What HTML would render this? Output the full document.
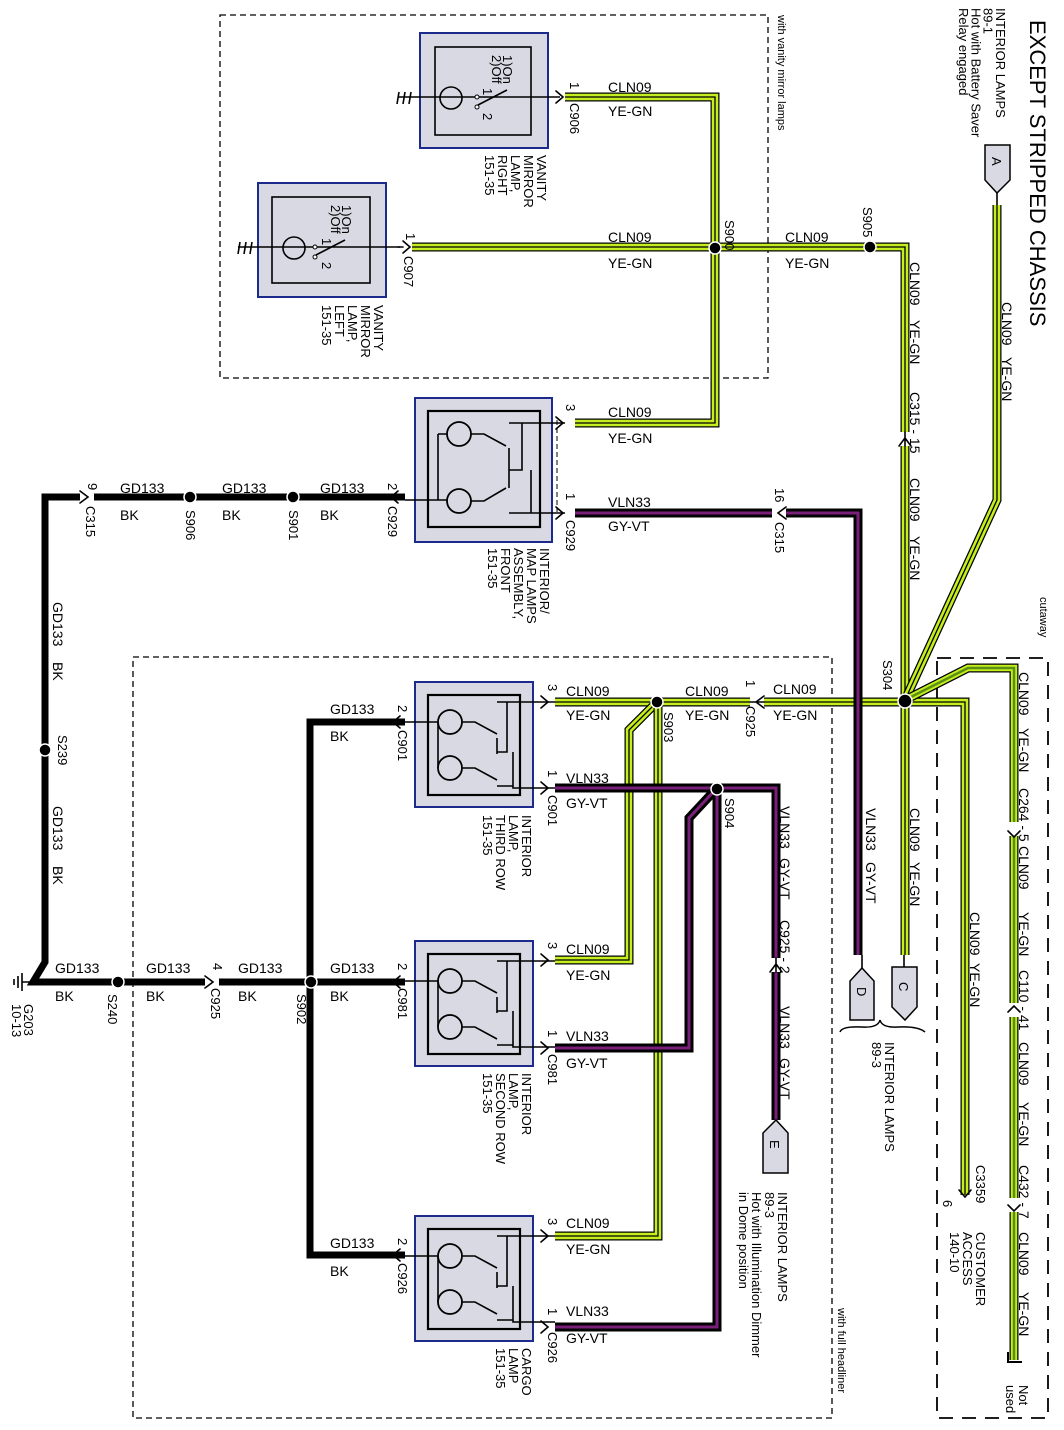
<!DOCTYPE html>
<html><head><meta charset="utf-8"><style>
html,body{margin:0;padding:0;background:#fff;}
svg{display:block;}
text{font-family:"Liberation Sans",Arial,sans-serif;fill:#000;}
.gk{fill:none;stroke:#000;stroke-width:9;}
.gy{fill:none;stroke:#c4ee1e;stroke-width:6.5;}
.gc{fill:none;stroke:#000;stroke-width:1.3;}
.dg{fill:none;stroke:#5b8f12;stroke-width:6.5;}
.pk{fill:none;stroke:#000;stroke-width:9;}
.pp{fill:none;stroke:#7a207a;stroke-width:3;}
.bk{fill:none;stroke:#000;stroke-width:7;}
.th{fill:none;stroke:#000;stroke-width:1.6;}
.box{fill:#d9d9e3;stroke:#1c2a8c;stroke-width:2;}
.inr{fill:none;stroke:#000;stroke-width:2.2;}
.dash{fill:none;stroke:#000;stroke-width:1.3;stroke-dasharray:6 4;}
.w{font-size:14px;}
.r{font-size:13px;}
</style></head><body>
<svg width="1064" height="1430" viewBox="0 0 1064 1430" xmlns="http://www.w3.org/2000/svg">
<defs>
<path id="g1" d="M565,97 H715 V423 H575"/>
<path id="g2" d="M412,247 H905 V955"/>
<path id="g3" d="M997,205 V500 L905,700"/>
<path id="g4" d="M905,702 H555"/>
<path id="g5" d="M657,702 L629,730 V960 H555"/>
<path id="g6" d="M658,702 V1236 H555"/>
<path id="g7" d="M905,702 H965 V1195"/>
<path id="g8" d="M905,700 L968,668 H1014 V1360"/>
<path id="p1" d="M575,513 H858 V955"/>
<path id="p2" d="M555,788 H776 V1120"/>
<path id="p3" d="M717,788 V1327 H555"/>
<path id="p4" d="M717,788 L689,818 V1048 H555"/>
</defs>

<rect x="220" y="15" width="548" height="363" class="dash"/>
<rect x="133" y="657" width="699" height="761" class="dash"/>
<rect x="937" y="658" width="111" height="760" fill="none" stroke="#000" stroke-width="1.8" stroke-dasharray="14 9"/>

<path class="bk" d="M405,497 H45 V962 L33,982 H405"/>
<path class="bk" d="M405,722 H310 V1255 H405"/>

<g>
<use href="#g1" class="gk"/><use href="#g1" class="gy"/><use href="#g1" class="gc"/>
<use href="#g2" class="gk"/><use href="#g2" class="gy"/><use href="#g2" class="gc"/>
<use href="#g3" class="gk"/><use href="#g3" class="gy"/><use href="#g3" class="gc"/>
<use href="#g4" class="gk"/><use href="#g4" class="gy"/><use href="#g4" class="gc"/>
<use href="#g5" class="gk"/><use href="#g5" class="gy"/><use href="#g5" class="gc"/>
<use href="#g6" class="gk"/><use href="#g6" class="gy"/><use href="#g6" class="gc"/>
<use href="#g7" class="gk"/><use href="#g7" class="gy"/><use href="#g7" class="gc"/>
<use href="#g8" class="gk"/><use href="#g8" class="gy"/><use href="#g8" class="dg" style="stroke-width:2.5"/>
</g>
<g>
<use href="#p1" class="pk"/><use href="#p1" class="pp"/>
<use href="#p2" class="pk"/><use href="#p2" class="pp"/>
<use href="#p3" class="pk"/><use href="#p3" class="pp"/>
<use href="#p4" class="pk"/><use href="#p4" class="pp"/>
</g>

<g fill="#fff" stroke="none">
<rect x="899" y="432" width="12" height="14"/>
<rect x="750" y="696" width="14" height="12"/>
<rect x="770" y="958" width="12" height="14"/>
<rect x="1008" y="822" width="12" height="14"/>
<rect x="1008" y="1003" width="12" height="14"/>
<rect x="1008" y="1198" width="12" height="14"/>
<rect x="772" y="507" width="14" height="12"/>
<rect x="205" y="976" width="14" height="12"/>
<rect x="80" y="491" width="14" height="12"/>
</g>
<g class="th" stroke-linecap="round">
<path d="M899,446 L905,438 L911,446 M905,432 V446"/>
<path d="M764,696 L756,702 L764,708 M750,702 H764"/>
<path d="M770,972 L776,964 L782,972 M776,958 V972"/>
<path d="M1008,831 L1014,837 L1020,831 M1008,1012 L1014,1006 L1020,1012 M1008,1205 L1014,1211 L1020,1205"/>
<path d="M786,507 L778,513 L786,519"/>
<path d="M205,976 L213,982 L205,988"/>
<path d="M80,491 L88,497 L80,503"/>
<path d="M959,1190 L965,1197 L971,1190"/>
<path d="M556,91 L563,97 L556,103 M556,417 L563,423 L556,429 M556,507 L563,513 L556,519"/>
<path d="M403,241 L410,247 L403,253 M403,247 H398"/>
<path d="M398,491 L391,497 L398,503"/>
<path d="M541,696 L548,702 L541,708 M541,782 L548,788 L541,794"/>
<path d="M541,954 L548,960 L541,966 M541,1042 L548,1048 L541,1054"/>
<path d="M541,1230 L548,1236 L541,1242 M541,1321 L548,1327 L541,1333"/>
<path d="M400,716 L393,722 L400,728 M400,976 L393,982 L400,988 M400,1249 L393,1255 L400,1261"/>
</g>
<path d="M1008,1352 V1362 H1022" fill="none" stroke="#000" stroke-width="2"/>

<g fill="#000" stroke="#fff" stroke-width="1.5">
<circle cx="715" cy="248" r="6"/><circle cx="870" cy="247" r="6"/><circle cx="905" cy="701" r="7"/>
<circle cx="657" cy="702" r="6"/><circle cx="717" cy="789" r="6"/>
<circle cx="190" cy="497" r="6"/><circle cx="293" cy="497" r="6"/><circle cx="45" cy="750" r="6"/>
<circle cx="118" cy="982" r="6"/><circle cx="311" cy="982" r="6"/>
</g>

<path d="M33,982 H22 M22,973 V991 M18,976 V988 M14,979 V985" class="th"/>

<rect x="420" y="33" width="128" height="115" class="box"/>
<rect x="435" y="47" width="96" height="88" class="inr" style="stroke-width:1.6"/>
<path d="M398,97 H510 L530,97 M530,97 H560" class="th"/>
<circle cx="451" cy="98" r="11" fill="none" stroke="#000" stroke-width="1.6"/>
<path d="M478,105 L507,90" class="th"/>
<circle cx="477" cy="97" r="2" fill="#fff" stroke="#000"/><circle cx="477" cy="107" r="2" fill="#fff" stroke="#000"/>
<path d="M399,92 L397,104 M405,92 L403,104 M411,92 L409,104" class="th"/>
<text class="r" transform="translate(503,55) rotate(90)">1)On</text>
<text class="r" transform="translate(492,55) rotate(90)">2)Off</text>
<text class="r" transform="translate(483,88) rotate(90)">1</text>
<text class="r" transform="translate(483,113) rotate(90)">2</text>

<rect x="258" y="183" width="128" height="114" class="box"/>
<rect x="272" y="197" width="98" height="86" class="inr" style="stroke-width:1.6"/>
<path d="M238,247 H350 M350,247 H400" class="th"/>
<circle cx="294" cy="248" r="11" fill="none" stroke="#000" stroke-width="1.6"/>
<path d="M316,255 L345,240" class="th"/>
<circle cx="315" cy="247" r="2" fill="#fff" stroke="#000"/><circle cx="315" cy="257" r="2" fill="#fff" stroke="#000"/>
<path d="M240,242 L238,254 M246,242 L244,254 M252,242 L250,254" class="th"/>
<text class="r" transform="translate(342,205) rotate(90)">1)On</text>
<text class="r" transform="translate(331,205) rotate(90)">2)Off</text>
<text class="r" transform="translate(322,238) rotate(90)">1</text>
<text class="r" transform="translate(322,262) rotate(90)">2</text>

<rect x="415" y="398" width="137" height="144" class="box"/>
<rect x="428" y="411" width="112" height="116" class="inr"/>
<path d="M405,500 H447 M438,434 V500 M438,434 H447 M471,434 H484 L506,446 M471,501 H484 L506,488 M509,423 H565 M522,423 V470 H509 M509,470 V448 M509,470 V488 M531,470 V513 H565 M509,513 H531" class="th"/>
<circle cx="459" cy="434" r="12" fill="#d9d9e3" stroke="#000" stroke-width="1.8"/>
<circle cx="459" cy="501" r="12" fill="#d9d9e3" stroke="#000" stroke-width="1.8"/>
<line x1="557" y1="420" x2="557" y2="512" stroke="#000" stroke-dasharray="5 3"/>

<g id="u1" transform="translate(415,682)">
<rect x="0" y="0" width="118" height="125" class="box"/>
<rect x="13" y="13" width="92" height="100" class="inr"/>
<path d="M-12,40 H23 M23,40 V86 M23,86 H25 M47,40 H60 L82,52 M47,86 H60 L82,98 M82,20 H140 M92,20 V70 H82 M82,56 V72 M98,70 V106 H140 M82,104 H98" class="th"/>
<circle cx="35" cy="40" r="12" fill="#d9d9e3" stroke="#000" stroke-width="1.8"/>
<circle cx="35" cy="86" r="12" fill="#d9d9e3" stroke="#000" stroke-width="1.8"/>
</g>
<use href="#u1" transform="translate(0,259)"/>
<use href="#u1" transform="translate(0,534)"/>

<path d="M985,145 H1010 V180 L997,193 L985,180 Z" fill="#d9d9e3" stroke="#000" stroke-width="1.5"/>
<path d="M997,193 V205" class="th"/>
<text font-size="13" transform="translate(992,157) rotate(90)">A</text>
<path d="M850,1020 V981 L862,968 L874,981 V1020 Z" fill="#d9d9e3" stroke="#000" stroke-width="1.5"/>
<path d="M862,955 V968" class="th"/>
<text font-size="13" transform="translate(857,987) rotate(90)">D</text>
<path d="M892,967 H917 V1007 L905,1020 L892,1007 Z" fill="#d9d9e3" stroke="#000" stroke-width="1.5"/>
<path d="M904,955 V967" class="th"/>
<text font-size="13" transform="translate(899,982) rotate(90)">C</text>
<path d="M763,1173 V1133 L776,1120 L788,1133 V1173 Z" fill="#d9d9e3" stroke="#000" stroke-width="1.5"/>
<text font-size="13" transform="translate(770,1140) rotate(90)">E</text>
<path d="M840,1032 Q842,1026 862,1027 Q878,1028 880,1020 Q882,1028 898,1027 Q918,1026 925,1032" fill="none" stroke="#000" stroke-width="1.5"/>

<g class="w">
<text x="608" y="92">CLN09</text><text x="608" y="116">YE-GN</text>
<text x="608" y="242">CLN09</text><text x="608" y="268">YE-GN</text>
<text x="785" y="242">CLN09</text><text x="785" y="268">YE-GN</text>
<text x="608" y="417">CLN09</text><text x="608" y="443">YE-GN</text>
<text x="608" y="507">VLN33</text><text x="608" y="531">GY-VT</text>
<text x="566" y="696">CLN09</text><text x="566" y="720">YE-GN</text>
<text x="685" y="696">CLN09</text><text x="685" y="720">YE-GN</text>
<text x="773" y="694">CLN09</text><text x="773" y="720">YE-GN</text>
<text x="566" y="783">VLN33</text><text x="566" y="808">GY-VT</text>
<text x="566" y="954">CLN09</text><text x="566" y="980">YE-GN</text>
<text x="566" y="1041">VLN33</text><text x="566" y="1068">GY-VT</text>
<text x="566" y="1228">CLN09</text><text x="566" y="1254">YE-GN</text>
<text x="566" y="1316">VLN33</text><text x="566" y="1343">GY-VT</text>
<text x="120" y="493">GD133</text><text x="120" y="520">BK</text>
<text x="222" y="493">GD133</text><text x="222" y="520">BK</text>
<text x="320" y="493">GD133</text><text x="320" y="520">BK</text>
<text x="330" y="714">GD133</text><text x="330" y="741">BK</text>
<text x="55" y="973">GD133</text><text x="55" y="1001">BK</text>
<text x="146" y="973">GD133</text><text x="146" y="1001">BK</text>
<text x="238" y="973">GD133</text><text x="238" y="1001">BK</text>
<text x="330" y="973">GD133</text><text x="330" y="1001">BK</text>
<text x="330" y="1248">GD133</text><text x="330" y="1276">BK</text>
</g>

<g class="w">
<text transform="translate(53,602) rotate(90)">GD133</text>
<text transform="translate(53,662) rotate(90)">BK</text>
<text transform="translate(53,806) rotate(90)">GD133</text>
<text transform="translate(53,866) rotate(90)">BK</text>
<text transform="translate(1002,302) rotate(90)">CLN09</text>
<text transform="translate(1002,357) rotate(90)">YE-GN</text>
<text transform="translate(910,262) rotate(90)">CLN09</text>
<text transform="translate(910,320) rotate(90)">YE-GN</text>
<text transform="translate(910,392) rotate(90)">C315 - 15</text>
<text transform="translate(910,478) rotate(90)">CLN09</text>
<text transform="translate(910,536) rotate(90)">YE-GN</text>
<text transform="translate(910,808) rotate(90)">CLN09</text>
<text transform="translate(910,862) rotate(90)">YE-GN</text>
<text transform="translate(866,808) rotate(90)">VLN33</text>
<text transform="translate(866,862) rotate(90)">GY-VT</text>
<text transform="translate(970,912) rotate(90)">CLN09</text>
<text transform="translate(970,963) rotate(90)">YE-GN</text>
<text transform="translate(1019,672) rotate(90)">CLN09</text>
<text transform="translate(1019,728) rotate(90)">YE-GN</text>
<text transform="translate(1019,788) rotate(90)">C264 - 5</text>
<text transform="translate(1019,846) rotate(90)">CLN09</text>
<text transform="translate(1019,912) rotate(90)">YE-GN</text>
<text transform="translate(1019,970) rotate(90)">C110 - 41</text>
<text transform="translate(1019,1042) rotate(90)">CLN09</text>
<text transform="translate(1019,1102) rotate(90)">YE-GN</text>
<text transform="translate(1019,1165) rotate(90)">C432 - 7</text>
<text transform="translate(1019,1232) rotate(90)">CLN09</text>
<text transform="translate(1019,1292) rotate(90)">YE-GN</text>
<text transform="translate(780,806) rotate(90)">VLN33</text>
<text transform="translate(780,858) rotate(90)">GY-VT</text>
<text transform="translate(780,920) rotate(90)">C925 - 2</text>
<text transform="translate(780,1006) rotate(90)">VLN33</text>
<text transform="translate(780,1058) rotate(90)">GY-VT</text>
</g>
<g class="r">
<text transform="translate(725,220) rotate(90)">S900</text>
<text transform="translate(863,207) rotate(90)">S905</text>
<text transform="translate(883,660) rotate(90)">S304</text>
<text transform="translate(664,712) rotate(90)">S903</text>
<text transform="translate(725,798) rotate(90)">S904</text>
<text transform="translate(186,510) rotate(90)">S906</text>
<text transform="translate(289,510) rotate(90)">S901</text>
<text transform="translate(58,735) rotate(90)">S239</text>
<text transform="translate(108,994) rotate(90)">S240</text>
<text transform="translate(297,994) rotate(90)">S902</text>
<text transform="translate(570,82) rotate(90)">1</text>
<text transform="translate(570,103) rotate(90)">C906</text>
<text transform="translate(406,233) rotate(90)">1</text>
<text transform="translate(404,256) rotate(90)">C907</text>
<text transform="translate(566,404) rotate(90)">3</text>
<text transform="translate(566,493) rotate(90)">1</text>
<text transform="translate(566,520) rotate(90)">C929</text>
<text transform="translate(388,483) rotate(90)">2</text>
<text transform="translate(388,506) rotate(90)">C929</text>
<text transform="translate(775,488) rotate(90)">16</text>
<text transform="translate(775,522) rotate(90)">C315</text>
<text transform="translate(88,483) rotate(90)">9</text>
<text transform="translate(86,506) rotate(90)">C315</text>
<text transform="translate(548,684) rotate(90)">3</text>
<text transform="translate(548,770) rotate(90)">1</text>
<text transform="translate(548,795) rotate(90)">C901</text>
<text transform="translate(398,705) rotate(90)">2</text>
<text transform="translate(398,730) rotate(90)">C901</text>
<text transform="translate(746,680) rotate(90)">1</text>
<text transform="translate(746,706) rotate(90)">C925</text>
<text transform="translate(548,942) rotate(90)">3</text>
<text transform="translate(548,1030) rotate(90)">1</text>
<text transform="translate(548,1054) rotate(90)">C981</text>
<text transform="translate(398,963) rotate(90)">2</text>
<text transform="translate(398,988) rotate(90)">C981</text>
<text transform="translate(213,963) rotate(90)">4</text>
<text transform="translate(211,988) rotate(90)">C925</text>
<text transform="translate(548,1218) rotate(90)">3</text>
<text transform="translate(548,1308) rotate(90)">1</text>
<text transform="translate(548,1332) rotate(90)">C926</text>
<text transform="translate(398,1238) rotate(90)">2</text>
<text transform="translate(398,1263) rotate(90)">C926</text>
<text transform="translate(24,1004) rotate(90)">G203</text>
<text transform="translate(12,1004) rotate(90)">10-13</text>
<text transform="translate(976,1165) rotate(90)">C3359</text>
<text transform="translate(943,1200) rotate(90)">6</text>
</g>

<g class="r">
<text transform="translate(537,155) rotate(90)">VANITY<tspan x="0" dy="1.0em">MIRROR</tspan><tspan x="0" dy="1.0em">LAMP,</tspan><tspan x="0" dy="1.0em">RIGHT</tspan><tspan x="0" dy="1.0em">151-35</tspan></text>
<text transform="translate(374,305) rotate(90)">VANITY<tspan x="0" dy="1.0em">MIRROR</tspan><tspan x="0" dy="1.0em">LAMP,</tspan><tspan x="0" dy="1.0em">LEFT</tspan><tspan x="0" dy="1.0em">151-35</tspan></text>
<text transform="translate(540,548) rotate(90)">INTERIOR/<tspan x="0" dy="1.0em">MAP LAMPS</tspan><tspan x="0" dy="1.0em">ASSEMBLY,</tspan><tspan x="0" dy="1.0em">FRONT</tspan><tspan x="0" dy="1.0em">151-35</tspan></text>
<text transform="translate(522,815) rotate(90)">INTERIOR<tspan x="0" dy="1.0em">LAMP,</tspan><tspan x="0" dy="1.0em">THIRD ROW</tspan><tspan x="0" dy="1.0em">151-35</tspan></text>
<text transform="translate(522,1073) rotate(90)">INTERIOR<tspan x="0" dy="1.0em">LAMP,</tspan><tspan x="0" dy="1.0em">SECOND ROW</tspan><tspan x="0" dy="1.0em">151-35</tspan></text>
<text transform="translate(522,1348) rotate(90)">CARGO<tspan x="0" dy="1.0em">LAMP</tspan><tspan x="0" dy="1.0em">151-35</tspan></text>
<text transform="translate(885,1042) rotate(90)">INTERIOR LAMPS<tspan x="0" dy="1.0em">89-3</tspan></text>
<text transform="translate(778,1192) rotate(90)">INTERIOR LAMPS<tspan x="0" dy="1.0em">89-3</tspan><tspan x="0" dy="1.0em">Hot with Illumination Dimmer</tspan><tspan x="0" dy="1.0em">in Dome position</tspan></text>
<text transform="translate(976,1232) rotate(90)">CUSTOMER<tspan x="0" dy="1.0em">ACCESS</tspan><tspan x="0" dy="1.0em">140-10</tspan></text>
<text transform="translate(1019,1385) rotate(90)">Not<tspan x="0" dy="1.0em">used</tspan></text>
<text transform="translate(996,8) rotate(90)">INTERIOR LAMPS<tspan x="0" dy="0.95em">89-1</tspan><tspan x="0" dy="0.95em">Hot with Battery Saver</tspan><tspan x="0" dy="0.95em">Relay engaged</tspan></text>
</g>
<text font-size="11" transform="translate(778,15) rotate(90)">with vanity mirror lamps</text>
<text font-size="11" transform="translate(838,1308) rotate(90)">with full headliner</text>
<text font-size="11" transform="translate(1040,597) rotate(90)">cutaway</text>
<text font-size="22" transform="translate(1030,20) rotate(90)">EXCEPT STRIPPED CHASSIS</text>
</svg>
</body></html>
